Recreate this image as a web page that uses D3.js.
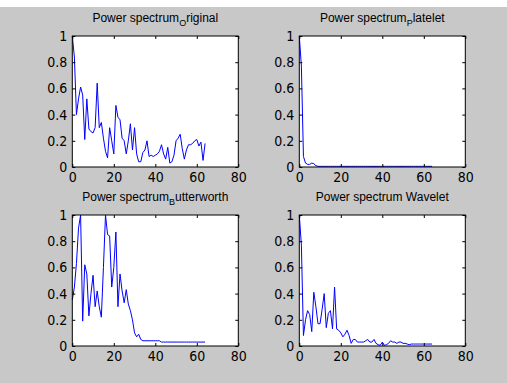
<!DOCTYPE html>
<html>
<head>
<meta charset="utf-8">
<script src="https://cdn.jsdelivr.net/npm/d3@7/dist/d3.min.js"></script>
<style>
  body { margin: 0; background: #fff; }
  .tick text { font-family: "Liberation Sans Narrow", "DejaVu Sans Condensed", Arial, sans-serif; font-size: 14px; fill: #000; }
  .title { font-family: Arial, "Liberation Sans", sans-serif; font-size: 12px; fill: #000; }
</style>
</head>
<body>
<svg id="fig" width="507" height="383"></svg>
<script>
// spectra, sampled at frequency bins 0..64
var bins = d3.range(0, 65);

var specOriginal = [1.0, 0.84, 0.4, 0.52, 0.61, 0.55, 0.21, 0.52, 0.29, 0.27,
  0.26, 0.3, 0.64, 0.3, 0.34, 0.22, 0.12, 0.07, 0.3, 0.2,
  0.1, 0.47, 0.38, 0.36, 0.22, 0.2, 0.1, 0.2, 0.33, 0.13,
  0.3, 0.1, 0.04, 0.04, 0.11, 0.13, 0.2, 0.08, 0.09, 0.08,
  0.09, 0.1, 0.12, 0.17, 0.1, 0.06, 0.15, 0.03, 0.04, 0.09,
  0.2, 0.22, 0.25, 0.14, 0.06, 0.13, 0.17, 0.17, 0.18, 0.2,
  0.21, 0.16, 0.19, 0.05, 0.18];

var specPlatelet = [1.0, 0.77, 0.08, 0.03, 0.02, 0.02, 0.03, 0.025, 0.01, 0.005,
  0.005, 0.005, 0.005, 0.005, 0.005, 0.005, 0.005, 0.005, 0.005, 0.005,
  0.005, 0.005, 0.005, 0.005, 0.005, 0.005, 0.005, 0.005, 0.005, 0.005,
  0.005, 0.005, 0.005, 0.005, 0.005, 0.005, 0.005, 0.005, 0.005, 0.005,
  0.005, 0.005, 0.005, 0.005, 0.005, 0.005, 0.005, 0.005, 0.005, 0.005,
  0.005, 0.005, 0.005, 0.005, 0.005, 0.005, 0.005, 0.005, 0.005, 0.005,
  0.005, 0.005, 0.005, 0.005, 0.005];

var specButterworth = [0.35, 0.45, 0.63, 0.9, 1.0, 0.19, 0.62, 0.55, 0.23, 0.4,
  0.54, 0.3, 0.42, 0.3, 0.22, 0.6, 1.0, 0.85, 0.84, 0.45,
  0.6, 0.87, 0.3, 0.55, 0.42, 0.33, 0.43, 0.32, 0.27, 0.2,
  0.1, 0.07, 0.09, 0.05, 0.04, 0.04, 0.04, 0.04, 0.04, 0.04,
  0.04, 0.04, 0.04, 0.03, 0.03, 0.03, 0.03, 0.03, 0.03, 0.03,
  0.03, 0.03, 0.03, 0.03, 0.03, 0.03, 0.03, 0.03, 0.03, 0.03,
  0.03, 0.03, 0.03, 0.03, 0.03];

var specWavelet = [1.0, 0.77, 0.08, 0.2, 0.27, 0.24, 0.11, 0.41, 0.3, 0.17,
  0.17, 0.28, 0.4, 0.14, 0.25, 0.27, 0.13, 0.45, 0.13, 0.12,
  0.1, 0.07, 0.09, 0.12, 0.08, 0.02, 0.05, 0.05, 0.03, 0.03,
  0.03, 0.03, 0.04, 0.05, 0.03, 0.03, 0.05, 0.02, 0.01, 0.005,
  0.03, 0.005, 0.01, 0.02, 0.04, 0.03, 0.03, 0.02, 0.03, 0.03,
  0.02, 0.02, 0.015, 0.01, 0.015, 0.015, 0.015, 0.015, 0.015, 0.015,
  0.015, 0.015, 0.015, 0.015, 0.015];

var xTicks = [0, 20, 40, 60, 80];
var yTicks = [0, 0.2, 0.4, 0.6, 0.8, 1];

// title pieces: [before subscript, subscript, after]
var titleOriginal = ["Power spectrum", "O", "riginal"];
var titlePlatelet = ["Power spectrum", "P", "latelet"];
var titleButterworth = ["Power spectrum", "B", "utterworth"];
var titleWavelet = ["Power spectrum Wavelet", "", ""];

var svg = d3.select('#fig');
svg.append('rect').attr('x', 0).attr('y', 7).attr('width', 507).attr('height', 376).attr('fill', '#c8c8c8');

var colX = [72.3, 299.3], colW = 166;
var rowY = [36, 215], rowH = 131;

var panels = [
  { data: specOriginal, title: titleOriginal, col: 0, row: 0 },
  { data: specPlatelet, title: titlePlatelet, col: 1, row: 0 },
  { data: specButterworth, title: titleButterworth, col: 0, row: 1 },
  { data: specWavelet, title: titleWavelet, col: 1, row: 1 }
];

panels.forEach(function(p) {
  var left = colX[p.col], top = rowY[p.row];
  var g = svg.append('g').attr('transform', 'translate(' + left + ',' + top + ')');

  var xscale = d3.scaleLinear().domain([0, 80]).range([0, colW]);
  var yscale = d3.scaleLinear().domain([0, 1]).range([rowH, 0]);

  g.append('rect').attr('width', colW).attr('height', rowH).attr('fill', '#fff');

  var line = d3.line()
    .x(function(d, i) { return xscale(bins[i]); })
    .y(function(d) { return yscale(d); });
  g.append('path').datum(p.data)
    .attr('d', line)
    .attr('fill', 'none')
    .attr('stroke', '#0000ff')
    .attr('stroke-width', 1);

  // inward ticks on all four sides, labels only bottom/left
  var xb = g.append('g').attr('transform', 'translate(0,' + rowH + ')')
    .call(d3.axisBottom(xscale).tickValues(xTicks).tickSizeInner(-3).tickSizeOuter(0).tickPadding(5).tickFormat(d3.format('d')));
  var yl = g.append('g')
    .call(d3.axisLeft(yscale).tickValues(yTicks).tickSizeInner(-3).tickSizeOuter(0).tickPadding(5).tickFormat(function(d) { return d === 0 || d === 1 ? d : d3.format('.1f')(d); }));
  var xt = g.append('g')
    .call(d3.axisTop(xscale).tickValues(xTicks).tickSizeInner(-3).tickSizeOuter(0).tickFormat(''));
  var yr = g.append('g').attr('transform', 'translate(' + colW + ',0)')
    .call(d3.axisRight(yscale).tickValues(yTicks).tickSizeInner(-3).tickSizeOuter(0).tickFormat(''));
  [xb, yl, xt, yr].forEach(function(a) { a.select('.domain').remove(); a.selectAll('line').attr('stroke', '#000'); });

  g.append('rect').attr('width', colW).attr('height', rowH)
    .attr('fill', 'none').attr('stroke', '#000').attr('stroke-width', 1);

  var t = g.append('text').attr('class', 'title')
    .attr('x', colW / 2).attr('y', -14).attr('text-anchor', 'middle');
  t.append('tspan').text(p.title[0]);
  if (p.title[1]) {
    t.append('tspan').attr('dy', 4).attr('font-size', '9px').text(p.title[1]);
    t.append('tspan').attr('dy', -4).text(p.title[2]);
  }
});
</script>
</body>
</html>
